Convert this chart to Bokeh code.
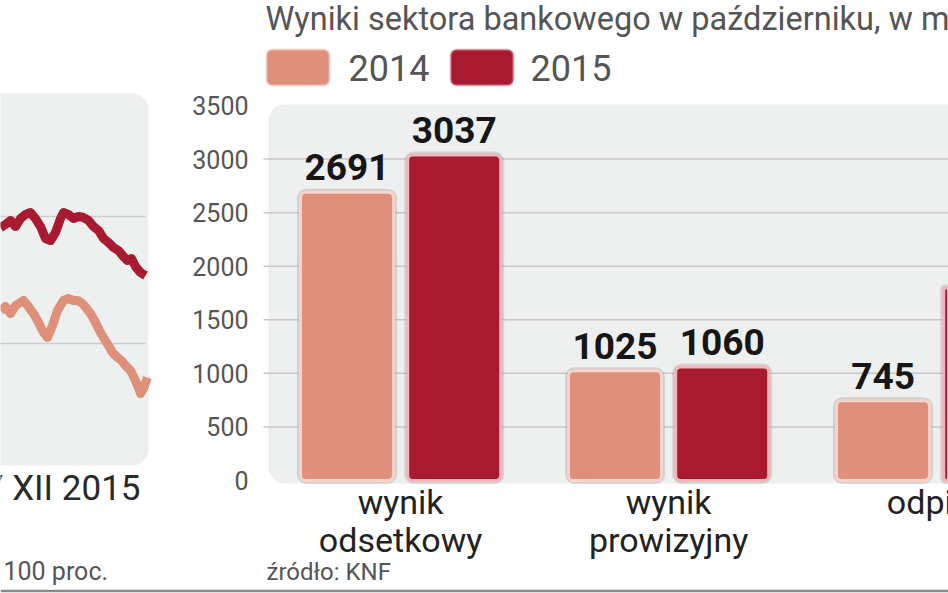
from bokeh.plotting import figure
from bokeh.models import Range1d, FixedTicker, BoxAnnotation, Label, LinearAxis, Span
from bokeh.embed import file_html
from bokeh.resources import INLINE
from bokeh.core.properties import value

# ---------------- data ----------------
categories = ["wynik\nodsetkowy", "wynik\nprowizyjny", "odpisy"]
years = ["2014", "2015"]
values_2014 = [2691, 1025, 745]
values_2015 = [3037, 1060, 1800]
y_ticks = [0, 500, 1000, 1500, 2000, 2500, 3000, 3500]

title_text = "Wyniki sektora bankowego w październiku, w mln zł"
source_text = "źródło: KNF"

# left fragment (cut-off line chart)
line15_x = [0, 5, 10, 15, 20, 25, 30, 35, 40, 45, 50, 55, 60, 63, 68, 73, 78, 83, 88, 93,
            98, 103, 108, 113, 118, 123, 127, 131, 135, 140, 145]
line15_y = [109.13, 109.37, 109.69, 109.21, 109.84, 110.16, 110.31, 109.84, 109.21, 108.27,
            108.11, 108.74, 109.84, 110.31, 110.16, 109.84, 110.0, 109.92, 109.69, 109.21,
            108.90, 108.27, 107.95, 107.56, 107.32, 106.85, 106.54, 106.69, 106.06, 105.59, 105.35]
line14_x = [0, 5, 10, 15, 20, 23, 28, 33, 38, 43, 47, 52, 57, 63, 68, 73, 77, 82, 86, 90,
            95, 100, 103, 108, 112, 117, 121, 125, 130, 134, 137, 140, 143, 147]
line14_y = [102.60, 102.91, 102.36, 102.99, 103.23, 103.39, 102.91, 102.36, 101.65, 100.87,
            100.47, 101.42, 102.60, 103.39, 103.54, 103.39, 103.39, 103.15, 102.76, 102.36,
            101.65, 100.87, 100.47, 99.84, 99.29, 98.90, 98.66, 98.27, 97.87, 97.24,
            96.69, 96.06, 96.46, 97.32]
left_grid = [100, 110]
left_caption = "/ XII 2015"
left_note = "100 proc."

C14 = "#DF907B"
C15 = "#A81A2F"
EDGE14 = "#F7D3CA"
EDGE15 = "#EFB6B9"
GRAY_TXT = "#555555"
W, H = 948, 593

# ---- pixel helpers (layout only) ----
X0, XS, PXU = 268, 0.007, 268.0   # bar chart: x
PPU = 0.107143                     # bar chart: px per unit

def xd(px):
    return XS + (px - X0) / PXU

def yd(py):
    return (480 - py) / PPU

def ydl(py):                       # left fragment scale
    return 100 + (343 - py) / 12.7

def lab(py, size):                 # Label baseline correction
    return py - 0.35 * size

p = figure(width=W, height=H, x_range=Range1d(xd(0), xd(W)), y_range=Range1d(yd(H), yd(0)),
           x_axis_location=None, y_axis_location=None, min_border=0,
           toolbar_location=None, output_backend="svg", outline_line_color=None,
           background_fill_color="white", border_fill_color="white")
p.extra_x_ranges = {"lx": Range1d(0, W)}
p.extra_y_ranges = {"ly": Range1d(ydl(H), ydl(0))}
p.xgrid.visible = False
p.ygrid.visible = False

# ---------------- left fragment ----------------
p.add_layout(BoxAnnotation(left=-40, right=148, top=ydl(93), bottom=ydl(465),
                           x_range_name="lx", y_range_name="ly",
                           fill_color="#EEEFEF", fill_alpha=1, line_color=None,
                           border_radius=16, level="image"))
p.segment(x0=[-10] * len(left_grid), x1=[145] * len(left_grid), y0=left_grid, y1=left_grid,
          x_range_name="lx", y_range_name="ly", line_color="#CBCFD2", line_width=1.5)
p.line(line14_x, line14_y, x_range_name="lx", y_range_name="ly",
       line_color=C14, line_width=9, line_join="round")
p.line(line15_x, line15_y, x_range_name="lx", y_range_name="ly",
       line_color=C15, line_width=9, line_join="round")
p.add_layout(Label(x=140, y=ydl(lab(500, 35)), x_range_name="lx", y_range_name="ly",
                   text=left_caption, text_align="right", text_baseline="alphabetic",
                   text_font="Roboto", text_font_size="35px", text_color="#2a2a2a"))
p.add_layout(Label(x=3, y=ydl(lab(580, 25)), x_range_name="lx", y_range_name="ly",
                   text=left_note, text_align="left", text_baseline="alphabetic",
                   text_font="Roboto", text_font_size="25px", text_color=GRAY_TXT))

# ---------------- bar chart ----------------
p.add_layout(BoxAnnotation(left=xd(268), right=xd(990), top=yd(104), bottom=yd(483),
                           fill_color="#EEEFEF", fill_alpha=1, line_color=None,
                           border_radius=16, level="image"))
grid_vals = y_ticks[1:-1]
p.segment(x0=[xd(263)] * len(grid_vals), x1=[xd(W)] * len(grid_vals), y0=grid_vals,
          y1=grid_vals, line_color="#C8C8C8", line_width=1.5)

yax = LinearAxis(fixed_location=xd(268), ticker=FixedTicker(ticks=y_ticks),
                 axis_line_color=None, major_tick_line_color=None, minor_tick_line_color=None,
                 major_label_standoff=14, major_label_text_font="Roboto",
                 major_label_text_font_size="25px", major_label_text_color=GRAY_TXT)
p.add_layout(yax, "left")

centers = [i + 0.5 for i in range(len(categories))]
p.text(x=centers, y=[yd(481)] * len(centers), text=categories, text_align="center",
       text_baseline="top", text_font=value("Roboto"), text_font_size="34px",
       text_color="#222222", text_line_height=0.95)

off, bw = 0.2, 0.347
x14 = [c - off for c in centers]
x15 = [c + off for c in centers]
# soft halo behind the bars
for xs, vs in ((x14, values_2014), (x15, values_2015)):
    p.vbar(x=xs, top=vs, bottom=0, width=bw, fill_color=None, line_color="#9a9a9a",
           line_alpha=0.35, line_width=7, border_radius=6)
p.vbar(x=x14, top=values_2014, bottom=0, width=bw, fill_color=C14, line_color=EDGE14,
       line_width=3, border_radius=5)
p.vbar(x=x15, top=values_2015, bottom=0, width=bw, fill_color=C15, line_color=EDGE15,
       line_width=3, border_radius=5)

for xs, vs in ((x14, values_2014), (x15, values_2015)):
    p.text(x=xs, y=vs, text=[str(v) for v in vs], text_align="center",
           text_baseline="alphabetic", y_offset=-25, text_font=value("Roboto"),
           text_font_style="bold", text_font_size="37px", text_color="#161616")

# title
p.add_layout(Label(x=xd(265), y=yd(lab(30, 32.5)), text=title_text, text_align="left",
                   text_baseline="alphabetic", text_font="Roboto", text_font_size="32.5px",
                   text_color=GRAY_TXT))
# legend
for (lx, txt_x), col, edge, yr in (((266, 348), C14, EDGE14, years[0]),
                                   ((450, 530), C15, EDGE15, years[1])):
    p.add_layout(BoxAnnotation(left=xd(lx), right=xd(lx + 63), top=yd(49), bottom=yd(85),
                               fill_color=col, fill_alpha=1, line_color=edge, line_width=3,
                               border_radius=6))
    p.add_layout(Label(x=xd(txt_x), y=yd(lab(80, 36)), text=yr, text_align="left",
                       text_baseline="alphabetic", text_font="Roboto", text_font_size="36px",
                       text_color=GRAY_TXT))
# source
p.add_layout(Label(x=xd(266), y=yd(lab(580, 24)), text=source_text, text_align="left",
                   text_baseline="alphabetic", text_font="Roboto", text_font_size="24px",
                   text_color=GRAY_TXT))
# bottom rule
p.add_layout(Span(location=yd(590.5), dimension="width", line_color="#8a8a8a", line_width=2.5))

open("out.html", "w").write(file_html(p, INLINE))
